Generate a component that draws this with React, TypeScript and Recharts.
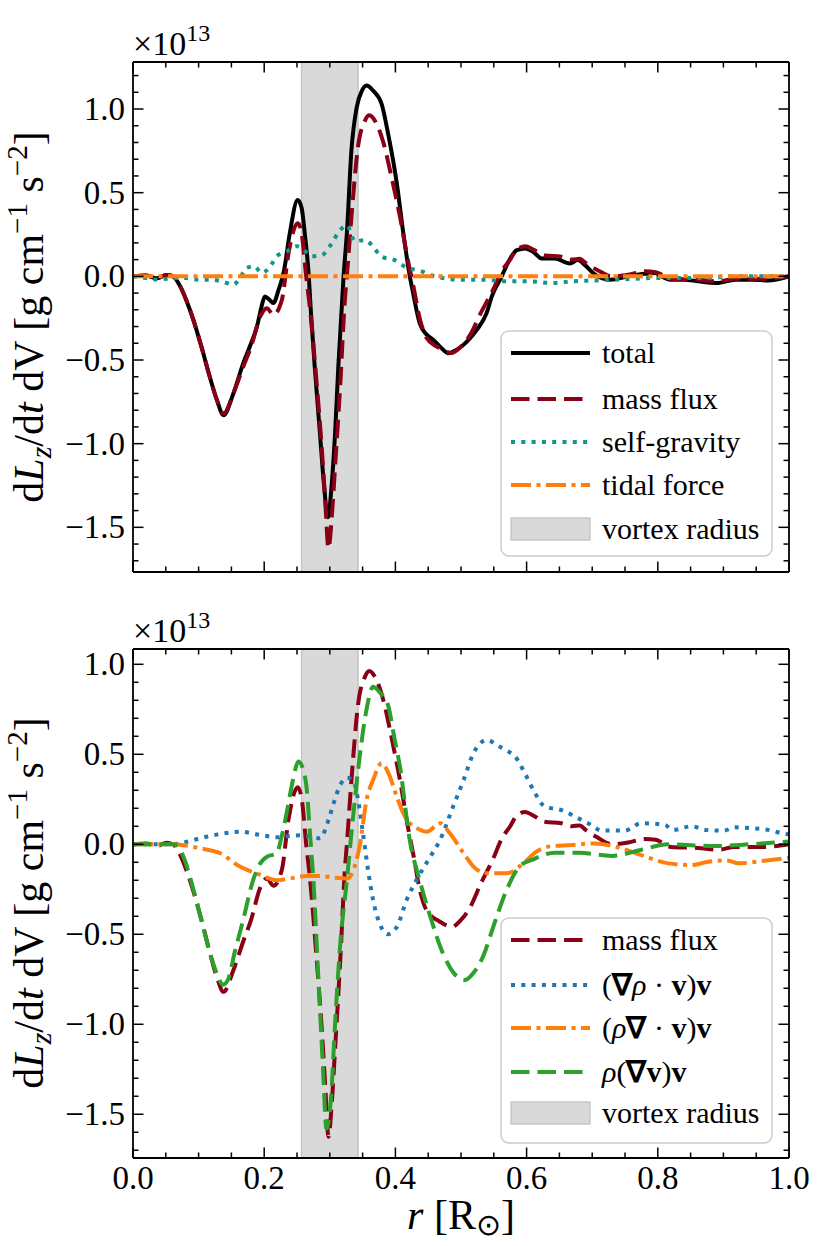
import React from 'react';
import { LineChart, Line, XAxis, YAxis, ReferenceArea, Legend } from 'recharts';

const FONT = 'Liberation Serif';

// r in R_sun, torque density in units of 1e13 g cm^-1 s^-2
const totalR = [0, 0.02, 0.036, 0.051, 0.061, 0.072, 0.082, 0.092, 0.105, 0.117, 0.128, 0.138, 0.153, 0.168, 0.18, 0.189, 0.196, 0.201, 0.208, 0.214, 0.222, 0.23, 0.239, 0.251, 0.257, 0.262, 0.268, 0.271, 0.277, 0.285, 0.291, 0.297, 0.303, 0.308, 0.313, 0.318, 0.321, 0.326, 0.333, 0.341, 0.349, 0.356, 0.366, 0.379, 0.389, 0.402, 0.412, 0.422, 0.427, 0.437, 0.448, 0.458, 0.468, 0.481, 0.493, 0.509, 0.524, 0.539, 0.547, 0.562, 0.575, 0.585, 0.598, 0.61, 0.623, 0.643, 0.666, 0.678, 0.689, 0.702, 0.727, 0.755, 0.78, 0.796, 0.808, 0.819, 0.84, 0.862, 0.89, 0.918, 0.945, 0.968, 1.0];
const totalV = [0, 0.005, -0.012, 0.008, 0, -0.06, -0.15, -0.26, -0.43, -0.6, -0.74, -0.83, -0.7, -0.52, -0.4, -0.3, -0.18, -0.12, -0.14, -0.16, -0.08, 0.03, 0.257, 0.456, 0.41, 0.25, 0, -0.2, -0.54, -0.94, -1.24, -1.44, -1.24, -0.94, -0.54, -0.2, 0, 0.257, 0.754, 1.01, 1.11, 1.14, 1.11, 1.03, 0.85, 0.56, 0.26, 0, -0.1, -0.28, -0.35, -0.38, -0.42, -0.46, -0.44, -0.39, -0.32, -0.22, -0.12, 0, 0.107, 0.157, 0.167, 0.147, 0.107, 0.107, 0.077, 0.097, 0.067, 0.018, -0.02, 0, 0.015, 0.02, -0.005, -0.02, -0.02, -0.03, -0.04, -0.02, -0.02, -0.025, 0];

const massR = [0, 0.02, 0.036, 0.051, 0.061, 0.072, 0.082, 0.092, 0.105, 0.117, 0.128, 0.138, 0.153, 0.168, 0.18, 0.194, 0.204, 0.214, 0.227, 0.237, 0.251, 0.257, 0.264, 0.27, 0.28, 0.288, 0.293, 0.298, 0.303, 0.308, 0.316, 0.323, 0.326, 0.333, 0.343, 0.354, 0.36, 0.371, 0.382, 0.394, 0.407, 0.42, 0.427, 0.437, 0.448, 0.468, 0.486, 0.5, 0.514, 0.53, 0.549, 0.562, 0.575, 0.585, 0.598, 0.61, 0.628, 0.653, 0.669, 0.681, 0.69, 0.707, 0.73, 0.755, 0.78, 0.797, 0.82, 0.861, 0.892, 0.917, 0.96, 1.0];
const massV = [0, 0.005, -0.01, 0.008, 0, -0.06, -0.15, -0.26, -0.43, -0.6, -0.74, -0.82, -0.7, -0.54, -0.42, -0.24, -0.19, -0.23, -0.14, 0.137, 0.317, 0.257, 0, -0.2, -0.64, -1.04, -1.34, -1.625, -1.44, -1.14, -0.64, -0.14, 0, 0.357, 0.774, 0.934, 0.963, 0.914, 0.795, 0.595, 0.356, 0.078, -0.05, -0.25, -0.37, -0.43, -0.458, -0.42, -0.35, -0.22, -0.08, 0.03, 0.1, 0.16, 0.18, 0.16, 0.125, 0.117, 0.1, 0.105, 0.08, 0.04, 0, 0.01, 0.03, 0.025, -0.015, -0.02, -0.03, -0.015, -0.015, 0];

const gravR = [0, 0.02, 0.04, 0.06, 0.08, 0.1, 0.117, 0.135, 0.153, 0.163, 0.173, 0.185, 0.196, 0.205, 0.211, 0.219, 0.235, 0.25, 0.26, 0.272, 0.288, 0.3, 0.316, 0.326, 0.338, 0.354, 0.366, 0.379, 0.399, 0.415, 0.44, 0.46, 0.5, 0.53, 0.577, 0.607, 0.638, 0.669, 0.7, 0.735, 0.796, 0.837, 0.872, 0.918, 1.0];
const gravV = [0, -0.01, -0.02, -0.01, -0.01, -0.02, -0.02, -0.03, -0.05, -0.01, 0.05, 0.06, 0.02, 0.04, 0.07, 0.12, 0.15, 0.18, 0.16, 0.12, 0.127, 0.18, 0.277, 0.306, 0.21, 0.217, 0.177, 0.117, 0.097, 0.057, 0.03, 0, -0.02, -0.02, -0.03, -0.03, -0.04, -0.03, -0.025, -0.02, -0.01, -0.01, -0.01, 0, 0];

const tidalR = [0, 0.25, 0.5, 0.75, 1.0];
const tidalV = [0, 0, 0, 0, 0];

const gradRhoR = [0, 0.061, 0.08, 0.102, 0.133, 0.163, 0.194, 0.219, 0.239, 0.254, 0.268, 0.285, 0.298, 0.306, 0.316, 0.326, 0.336, 0.343, 0.351, 0.359, 0.366, 0.376, 0.388, 0.402, 0.417, 0.432, 0.453, 0.468, 0.488, 0.504, 0.519, 0.54, 0.555, 0.57, 0.582, 0.598, 0.613, 0.628, 0.653, 0.679, 0.699, 0.714, 0.75, 0.775, 0.811, 0.823, 0.852, 0.872, 0.9, 0.918, 0.943, 0.968, 0.991, 1.0];
const gradRhoV = [0, 0, 0.012, 0.033, 0.057, 0.07, 0.052, 0.039, 0.046, 0.05, 0.046, 0.033, 0.135, 0.23, 0.33, 0.37, 0.35, 0.25, 0.05, -0.16, -0.31, -0.44, -0.5, -0.46, -0.31, -0.2, -0.07, 0.024, 0.21, 0.357, 0.506, 0.58, 0.55, 0.52, 0.49, 0.39, 0.283, 0.209, 0.19, 0.144, 0.107, 0.076, 0.076, 0.117, 0.107, 0.08, 0.1, 0.08, 0.076, 0.094, 0.089, 0.08, 0.06, 0.055];

const divVR = [0, 0.061, 0.102, 0.133, 0.163, 0.194, 0.219, 0.239, 0.265, 0.285, 0.306, 0.326, 0.336, 0.346, 0.356, 0.366, 0.379, 0.39, 0.402, 0.412, 0.422, 0.435, 0.448, 0.468, 0.483, 0.504, 0.519, 0.539, 0.57, 0.595, 0.615, 0.633, 0.669, 0.704, 0.735, 0.775, 0.816, 0.852, 0.877, 0.905, 0.923, 0.958, 1.0];
const divVV = [0, 0, -0.022, -0.05, -0.124, -0.17, -0.2, -0.19, -0.176, -0.176, -0.185, -0.19, -0.143, 0, 0.246, 0.357, 0.45, 0.39, 0.265, 0.172, 0.117, 0.085, 0.07, 0.117, 0.061, -0.05, -0.124, -0.161, -0.161, -0.106, -0.041, -0.013, -0.004, 0.005, -0.013, -0.06, -0.106, -0.115, -0.097, -0.09, -0.106, -0.093, -0.075];

const advR = [0, 0.061, 0.07, 0.08, 0.092, 0.105, 0.117, 0.128, 0.137, 0.145, 0.155, 0.168, 0.183, 0.195, 0.204, 0.219, 0.227, 0.234, 0.244, 0.252, 0.259, 0.265, 0.27, 0.275, 0.282, 0.289, 0.295, 0.302, 0.308, 0.316, 0.326, 0.336, 0.346, 0.356, 0.366, 0.377, 0.389, 0.398, 0.407, 0.422, 0.437, 0.453, 0.473, 0.49, 0.506, 0.52, 0.534, 0.55, 0.57, 0.59, 0.608, 0.643, 0.68, 0.73, 0.775, 0.816, 0.887, 0.94, 1.0];
const advV = [0, 0, -0.02, -0.1, -0.25, -0.43, -0.6, -0.72, -0.78, -0.75, -0.6, -0.42, -0.2, -0.1, -0.07, -0.05, 0.05, 0.17, 0.36, 0.46, 0.42, 0.3, 0.05, -0.2, -0.7, -1.2, -1.58, -1.4, -1.0, -0.55, -0.2, 0.17, 0.5, 0.75, 0.875, 0.84, 0.77, 0.6, 0.43, 0.02, -0.2, -0.4, -0.61, -0.72, -0.754, -0.71, -0.62, -0.45, -0.25, -0.12, -0.087, -0.047, -0.047, -0.065, -0.03, 0, -0.01, 0, 0.015];

const vortex = [0.257, 0.343];

const xTicks = [0, 0.05, 0.1, 0.15, 0.2, 0.25, 0.3, 0.35, 0.4, 0.45, 0.5, 0.55, 0.6, 0.65, 0.7, 0.75, 0.8, 0.85, 0.9, 0.95, 1.0];
const yTicksTop = [-1.7, -1.6, -1.5, -1.4, -1.3, -1.2, -1.1, -1.0, -0.9, -0.8, -0.7, -0.6, -0.5, -0.4, -0.3, -0.2, -0.1, 0, 0.1, 0.2, 0.3, 0.4, 0.5, 0.6, 0.7, 0.8, 0.9, 1.0, 1.1, 1.2];
const yTicksBottom = [-1.7, -1.6, -1.5, -1.4, -1.3, -1.2, -1.1, -1.0, -0.9, -0.8, -0.7, -0.6, -0.5, -0.4, -0.3, -0.2, -0.1, 0, 0.1, 0.2, 0.3, 0.4, 0.5, 0.6, 0.7, 0.8, 0.9, 1.0];
const yDomainTop = [-1.767, 1.281];
const yDomainBottom = [-1.743, 1.085];

const topLabels = ['total', 'mass flux', 'self-gravity', 'tidal force'];
const topColors = ['#000000', '#8a0016', '#12968a', '#ff7f0e'];
const topDash = ['', '18.5 8', '4 6.3', '20 5.5 4 5.5'];

const botColors = ['#8a0016', '#1f77b4', '#ff7f0e', '#2ca02c'];
const botDash = ['18.5 8', '4 6.3', '20 5.5 4 5.5', '18.5 8'];

const zip = (r: number[], v: number[]) => r.map((x, i) => ({ r: x, v: v[i] }));

const isMult = (v: number, step: number) => Math.abs(v / step - Math.round(v / step)) < 1e-6;
const fmt = (v: number) => (Math.abs(v) < 1e-9 ? '0.0' : v.toFixed(1).replace('-', '\u2212'));

const tickStroke = { stroke: '#000', strokeWidth: 1.5 };

const XTickBottom = (props: any) => {
  const { x, y, payload, showLabel } = props;
  const major = isMult(payload.value, 0.2);
  return (
    <g>
      <line x1={x} x2={x} y1={y} y2={y - (major ? 10.5 : 5.5)} {...tickStroke} />
      {showLabel && major && (
        <text x={x} y={y + 31} textAnchor="middle" fontSize={33} fontFamily={FONT} fill="#000">
          {payload.value.toFixed(1)}
        </text>
      )}
    </g>
  );
};

const XTickTop = (props: any) => {
  const { x, y, payload } = props;
  const major = isMult(payload.value, 0.2);
  return <line x1={x} x2={x} y1={y} y2={y + (major ? 10.5 : 5.5)} {...tickStroke} />;
};

const YTickLeft = (props: any) => {
  const { x, y, payload } = props;
  const major = isMult(payload.value, 0.5);
  return (
    <g>
      <line x1={x} x2={x + (major ? 10.5 : 5.5)} y1={y} y2={y} {...tickStroke} />
      {major && (
        <text x={x - 8} y={y + 11} textAnchor="end" fontSize={33} fontFamily={FONT} fill="#000">
          {fmt(payload.value)}
        </text>
      )}
    </g>
  );
};

const YTickRight = (props: any) => {
  const { x, y, payload } = props;
  const major = isMult(payload.value, 0.5);
  return <line x1={x} x2={x - (major ? 10.5 : 5.5)} y1={y} y2={y} {...tickStroke} />;
};

const axisLine = { stroke: '#000', strokeWidth: 1.8 };

const LegendBox = ({ labels, colors, dashes, rows }: { labels: React.ReactNode[]; colors: string[]; dashes: string[]; rows: number[] }) => (
  <svg width={273} height={227} style={{ display: 'block' }}>
    <rect x={1} y={1} width={271} height={225} rx={8} fill="#fff" fillOpacity={0.8} stroke="#cccccc" strokeWidth={1.5} />
    {labels.map((lab, i) => (
      <g key={i}>
        <line x1={11} x2={90} y1={rows[i]} y2={rows[i]} stroke={colors[i]} strokeWidth={4} strokeDasharray={dashes[i] || undefined} />
        <text x={102} y={rows[i] + 10} fontSize={30} fontFamily={FONT} fill="#000">{lab}</text>
      </g>
    ))}
    <rect x={11} y={rows[4] - 11} width={79} height={22} fill="#d9d9d9" stroke="#bfbfbf" strokeWidth={1.2} />
    <text x={102} y={rows[4] + 10} fontSize={30} fontFamily={FONT} fill="#000">vortex radius</text>
  </svg>
);

const bv = (s: string) => <tspan fontWeight="bold">{s}</tspan>;
const it = (s: string) => <tspan fontStyle="italic">{s}</tspan>;

const botLabels: React.ReactNode[] = [
  'mass flux',
  <>({bv('\u2207')}{it('\u03c1')} {'\u00b7'} {bv('v')}){bv('v')}</>,
  <>({it('\u03c1')}{bv('\u2207')} {'\u00b7'} {bv('v')}){bv('v')}</>,
  <>{it('\u03c1')}({bv('\u2207v')}){bv('v')}</>,
];

const YLabel = ({ cy }: { cy: number }) => (
  <text x={43} y={cy} transform={`rotate(-90, 43, ${cy})`} textAnchor="middle" fontSize={42} fontFamily={FONT} fill="#000">
    d<tspan fontStyle="italic">L</tspan>
    <tspan fontStyle="italic" fontSize={30} dy={8}>z</tspan>
    <tspan dy={-8}>/d</tspan>
    <tspan fontStyle="italic">t</tspan>
    <tspan> dV [g cm</tspan>
    <tspan fontSize={29} dy={-16}>{'\u22121'}</tspan>
    <tspan dy={16}> s</tspan>
    <tspan fontSize={29} dy={-16}>{'\u22122'}</tspan>
    <tspan dy={16}>]</tspan>
  </text>
);

const Multiplier = ({ y }: { y: number }) => (
  <text x={133} y={y} fontSize={34} fontFamily={FONT} fill="#000">
    {'\u00d710'}
    <tspan fontSize={24} dy={-14}>13</tspan>
  </text>
);

const chartW = 830;

export default function App() {
  return (
    <div style={{ position: 'absolute', left: 0, top: 0, width: 830, height: 1246, background: '#fff', fontFamily: FONT }}>
      <div style={{ position: 'absolute', left: 0, top: 0 }}>
        <LineChart width={chartW} height={620} margin={{ top: 42, right: 11, bottom: 8, left: 43 }}>
          <XAxis dataKey="r" type="number" domain={[0, 1]} ticks={xTicks} allowDataOverflow interval={0} height={40} tickSize={0} tickMargin={0} tickLine={false} axisLine={axisLine} tick={(p: any) => <XTickBottom {...p} showLabel={false} />} />
          <XAxis xAxisId="t" orientation="top" dataKey="r" type="number" domain={[0, 1]} ticks={xTicks} allowDataOverflow interval={0} height={20} tickSize={0} tickMargin={0} tickLine={false} axisLine={axisLine} tick={(p: any) => <XTickTop {...p} />} />
          <YAxis type="number" domain={yDomainTop} ticks={yTicksTop} allowDataOverflow interval={0} width={90} tickSize={0} tickMargin={0} tickLine={false} axisLine={axisLine} tick={(p: any) => <YTickLeft {...p} />} />
          <YAxis yAxisId="rt" orientation="right" type="number" domain={yDomainTop} ticks={yTicksTop} allowDataOverflow interval={0} width={30} tickSize={0} tickMargin={0} tickLine={false} axisLine={axisLine} tick={(p: any) => <YTickRight {...p} />} />
          <ReferenceArea x1={vortex[0]} x2={vortex[1]} fill="#d9d9d9" fillOpacity={1} stroke="#c4c4c4" strokeWidth={1.5} />
          <Line data={zip(totalR, totalV)} dataKey="v" type="monotone" stroke={topColors[0]} strokeWidth={4} dot={false} activeDot={false} isAnimationActive={false} />
          <Line data={zip(massR, massV)} dataKey="v" type="monotone" stroke={topColors[1]} strokeWidth={4} strokeDasharray={topDash[1]} dot={false} activeDot={false} isAnimationActive={false} />
          <Line data={zip(gravR, gravV)} dataKey="v" type="monotone" stroke={topColors[2]} strokeWidth={4} strokeDasharray={topDash[2]} dot={false} activeDot={false} isAnimationActive={false} />
          <Line data={zip(tidalR, tidalV)} dataKey="v" type="monotone" stroke={topColors[3]} strokeWidth={4} strokeDasharray={topDash[3]} dot={false} activeDot={false} isAnimationActive={false} />
          <Legend verticalAlign="middle" align="center" layout="horizontal" wrapperStyle={{ left: 500, top: 330, width: 273, height: 227 }} content={() => <LegendBox labels={topLabels} colors={topColors} dashes={topDash} rows={[23, 69, 112, 155, 199]} />} />
        </LineChart>
      </div>
      <div style={{ position: 'absolute', left: 0, top: 600 }}>
        <LineChart width={chartW} height={646} margin={{ top: 29, right: 11, bottom: 48, left: 43 }}>
          <XAxis dataKey="r" type="number" domain={[0, 1]} ticks={xTicks} allowDataOverflow interval={0} height={40} tickSize={0} tickMargin={0} tickLine={false} axisLine={axisLine} tick={(p: any) => <XTickBottom {...p} showLabel />} />
          <XAxis xAxisId="t" orientation="top" dataKey="r" type="number" domain={[0, 1]} ticks={xTicks} allowDataOverflow interval={0} height={20} tickSize={0} tickMargin={0} tickLine={false} axisLine={axisLine} tick={(p: any) => <XTickTop {...p} />} />
          <YAxis type="number" domain={yDomainBottom} ticks={yTicksBottom} allowDataOverflow interval={0} width={90} tickSize={0} tickMargin={0} tickLine={false} axisLine={axisLine} tick={(p: any) => <YTickLeft {...p} />} />
          <YAxis yAxisId="rt" orientation="right" type="number" domain={yDomainBottom} ticks={yTicksBottom} allowDataOverflow interval={0} width={30} tickSize={0} tickMargin={0} tickLine={false} axisLine={axisLine} tick={(p: any) => <YTickRight {...p} />} />
          <ReferenceArea x1={vortex[0]} x2={vortex[1]} fill="#d9d9d9" fillOpacity={1} stroke="#c4c4c4" strokeWidth={1.5} />
          <Line data={zip(massR, massV)} dataKey="v" type="monotone" stroke={botColors[0]} strokeWidth={4} strokeDasharray={botDash[0]} dot={false} activeDot={false} isAnimationActive={false} />
          <Line data={zip(gradRhoR, gradRhoV)} dataKey="v" type="monotone" stroke={botColors[1]} strokeWidth={4} strokeDasharray={botDash[1]} dot={false} activeDot={false} isAnimationActive={false} />
          <Line data={zip(divVR, divVV)} dataKey="v" type="monotone" stroke={botColors[2]} strokeWidth={4} strokeDasharray={botDash[2]} dot={false} activeDot={false} isAnimationActive={false} />
          <Line data={zip(advR, advV)} dataKey="v" type="monotone" stroke={botColors[3]} strokeWidth={4} strokeDasharray={botDash[3]} dot={false} activeDot={false} isAnimationActive={false} />
          <Legend verticalAlign="middle" align="center" layout="horizontal" wrapperStyle={{ left: 500, top: 317, width: 273, height: 227 }} content={() => <LegendBox labels={botLabels} colors={botColors} dashes={botDash} rows={[23, 68, 111, 155, 196]} />} />
        </LineChart>
      </div>
      <svg width={830} height={1246} style={{ position: 'absolute', left: 0, top: 0, pointerEvents: 'none' }}>
        <Multiplier y={55} />
        <Multiplier y={642} />
        <YLabel cy={317} />
        <YLabel cy={903} />
        <text x={461} y={1229} textAnchor="middle" fontSize={42} fontFamily={FONT} fill="#000">
          <tspan fontStyle="italic">r</tspan> [R<tspan fontSize={30} dy={6}>{'\u2299'}</tspan><tspan dy={-6}>]</tspan>
        </text>
      </svg>
    </div>
  );
}
